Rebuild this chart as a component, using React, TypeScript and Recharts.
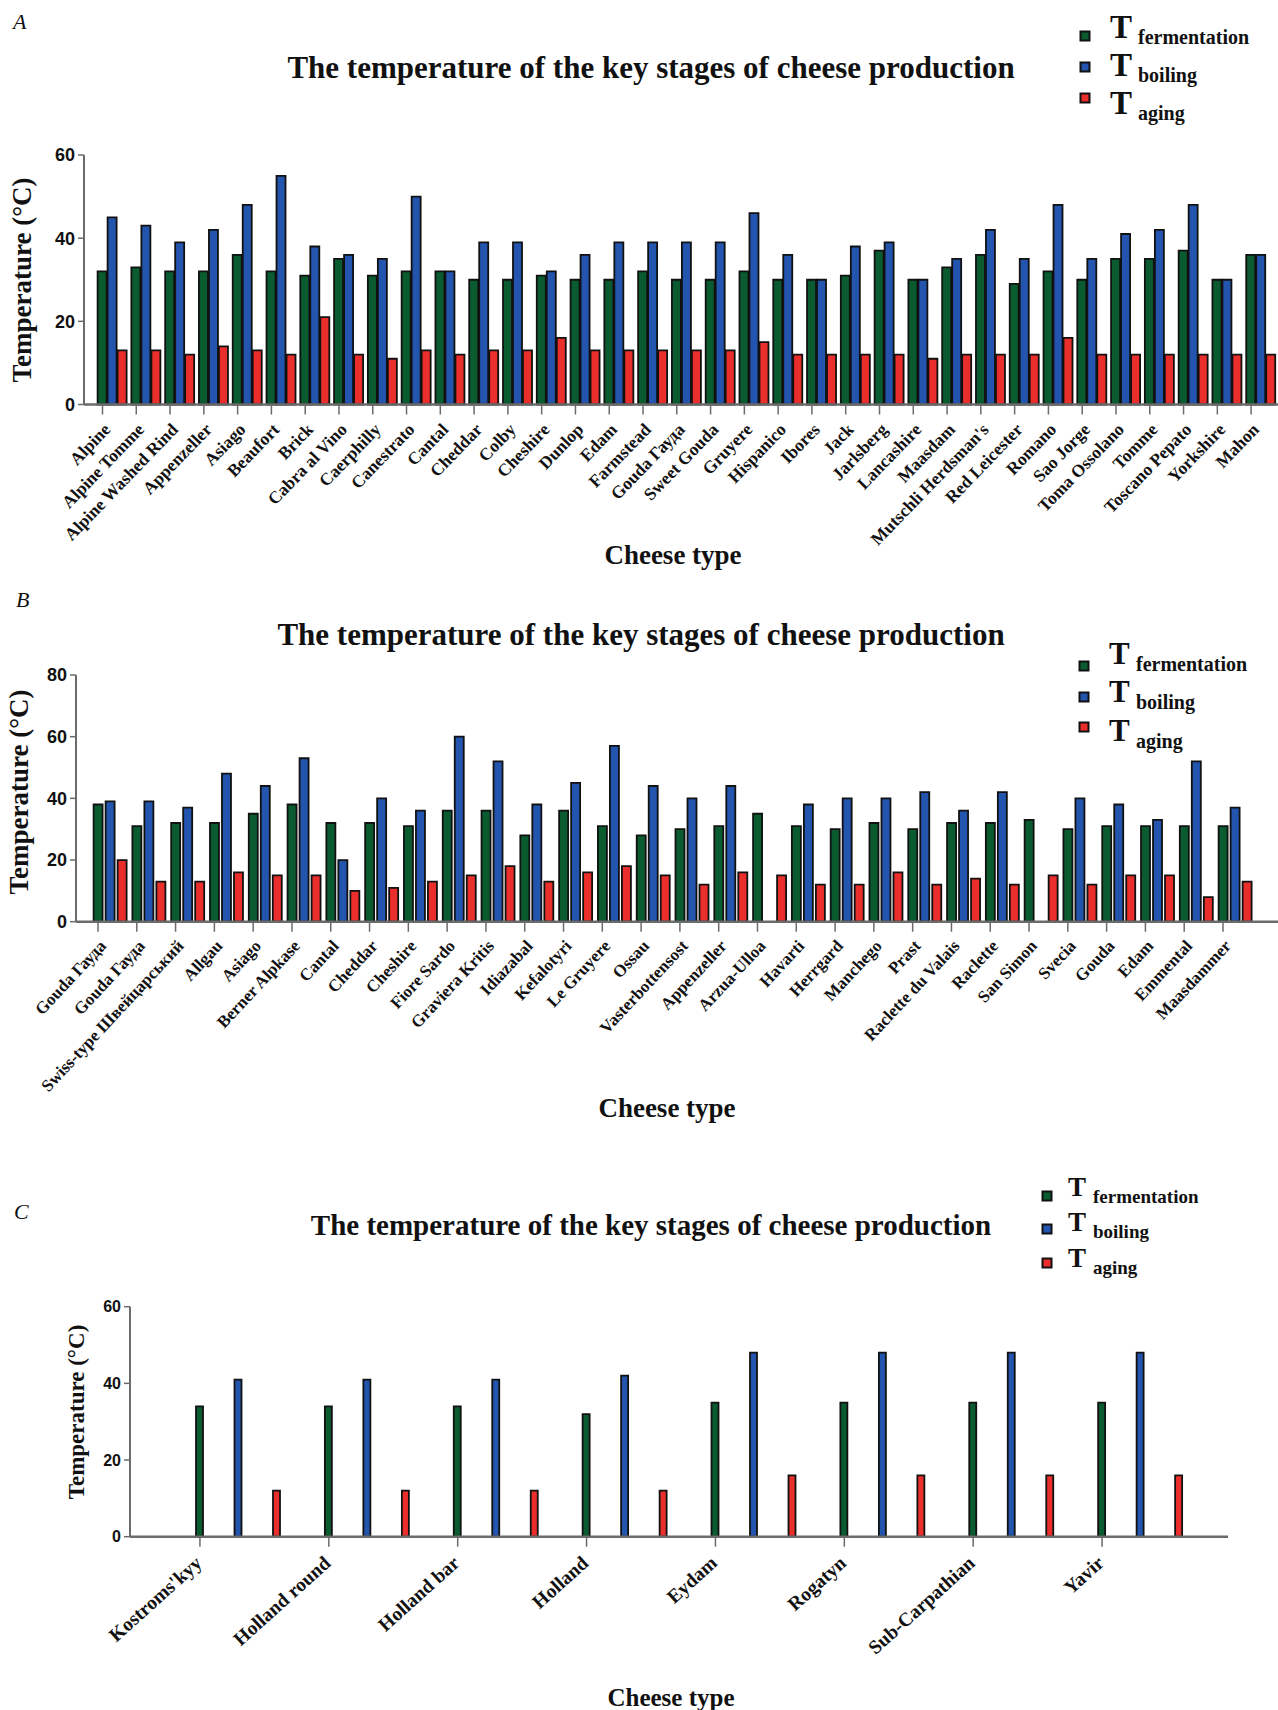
import React from "react";
import { BarChart, Bar, XAxis, YAxis, Legend } from "recharts";

const GREEN = "#0b5b30";
const BLUE = "#2355ae";
const RED = "#ea2e2b";
const AXIS = "#6b6b6b";
const SERIF = "'Liberation Serif', 'Times New Roman', serif";
const SANS = "'Liberation Sans', Arial, sans-serif";
const NARROW = "'Liberation Sans Narrow', 'Liberation Sans', sans-serif";

const seriesKeys = ["fermentation", "boiling", "aging"];
const seriesColors = [GREEN, BLUE, RED];

// Panel A
const cheesesA = [
  "Alpine", "Alpine Tomme", "Alpine Washed Rind", "Appenzeller", "Asiago", "Beaufort", "Brick",
  "Cabra al Vino", "Caerphilly", "Canestrato", "Cantal", "Cheddar", "Colby", "Cheshire", "Dunlop",
  "Edam", "Farmstead", "Gouda Гауда", "Sweet Gouda", "Gruyere", "Hispanico", "Ibores", "Jack",
  "Jarlsberg", "Lancashire", "Maasdam", "Mutschli Herdsman's", "Red Leicester", "Romano",
  "Sao Jorge", "Toma Ossolano", "Tomme", "Toscano Pepato", "Yorkshire", "Mahon",
];
const fermentationA = [32, 33, 32, 32, 36, 32, 31, 35, 31, 32, 32, 30, 30, 31, 30, 30, 32, 30, 30, 32, 30, 30, 31, 37, 30, 33, 36, 29, 32, 30, 35, 35, 37, 30, 36];
const boilingA = [45, 43, 39, 42, 48, 55, 38, 36, 35, 50, 32, 39, 39, 32, 36, 39, 39, 39, 39, 46, 36, 30, 38, 39, 30, 35, 42, 35, 48, 35, 41, 42, 48, 30, 36];
const agingA = [13, 13, 12, 14, 13, 12, 21, 12, 11, 13, 12, 13, 13, 16, 13, 13, 13, 13, 13, 15, 12, 12, 12, 12, 11, 12, 12, 12, 16, 12, 12, 12, 12, 12, 12];
const yTicksA = [0, 20, 40, 60];

// Panel B
const cheesesB = [
  "Gouda Гауда", "Gouda Гауда", "Swiss-type Швейцарський", "Allgau", "Asiago", "Berner Alpkase",
  "Cantal", "Cheddar", "Cheshire", "Fiore Sardo", "Graviera Kritis", "Idiazabal", "Kefalotyri",
  "Le Gruyere", "Ossau", "Vasterbottensost", "Appenzeller", "Arzua-Ulloa", "Havarti", "Herrgard",
  "Manchego", "Prast", "Raclette du Valais", "Raclette", "San Simon", "Svecia", "Gouda", "Edam",
  "Emmental", "Maasdammer",
];
const fermentationB = [38, 31, 32, 32, 35, 38, 32, 32, 31, 36, 36, 28, 36, 31, 28, 30, 31, 35, 31, 30, 32, 30, 32, 32, 33, 30, 31, 31, 31, 31];
const boilingB = [39, 39, 37, 48, 44, 53, 20, 40, 36, 60, 52, 38, 45, 57, 44, 40, 44, null, 38, 40, 40, 42, 36, 42, null, 40, 38, 33, 52, 37];
const agingB = [20, 13, 13, 16, 15, 15, 10, 11, 13, 15, 18, 13, 16, 18, 15, 12, 16, 15, 12, 12, 16, 12, 14, 12, 15, 12, 15, 15, 8, 13];
const yTicksB = [0, 20, 40, 60, 80];

// Panel C
const cheesesC = ["Kostroms'kyy", "Holland round", "Holland bar", "Holland", "Eydam", "Rogatyn", "Sub-Carpathian", "Yavir"];
const fermentationC = [34, 34, 34, 32, 35, 35, 35, 35];
const boilingC = [41, 41, 41, 42, 48, 48, 48, 48];
const agingC = [12, 12, 12, 12, 16, 16, 16, 16];
const yTicksC = [0, 20, 40, 60];

const buildRows = (names: string[], f: (number | null)[], b: (number | null)[], a: (number | null)[]) =>
  names.map((name, i) => ({ name, fermentation: f[i], boiling: b[i], aging: a[i] }));

type TickCfg = { shift: number; angle: number; size: number; dx: number; dy: number; len: number };

// x tick sits under the green bar, not the group centre
const makeTick = (cfg: TickCfg) => (props: any) => {
  const { x, y, payload } = props;
  const tx = x + cfg.shift;
  return (
    <g>
      <line x1={tx} y1={y} x2={tx} y2={y + cfg.len} stroke={AXIS} strokeWidth={1.5} />
      <text
        transform={`translate(${tx + cfg.dx},${y + cfg.dy}) rotate(${cfg.angle})`}
        textAnchor="end"
        fontFamily={SERIF}
        fontWeight="bold"
        fontSize={cfg.size}
        fill="#111"
      >
        {payload.value}
      </text>
    </g>
  );
};

type LegendCfg = {
  x0: number; y0: number; w: number; h: number;
  sqX: number; sqY: number[]; sq: number;
  tX: number; tY: number[]; tSize: number;
  subX: number; subY: number[]; subSize: number;
};

const makeLegend = (cfg: LegendCfg) => (props: any) => {
  const payload = props.payload || [];
  return (
    <svg width={cfg.w} height={cfg.h} viewBox={`${cfg.x0} ${cfg.y0} ${cfg.w} ${cfg.h}`} style={{ display: "block", overflow: "visible" }}>
      {seriesKeys.map((key, i) => {
        const item = payload.find((p: any) => p.value === key);
        const color = (item && item.color) || seriesColors[i];
        return (
          <g key={key}>
            <rect x={cfg.sqX - cfg.sq / 2} y={cfg.sqY[i] - cfg.sq / 2} width={cfg.sq} height={cfg.sq} fill={color} stroke="#111" strokeWidth={2} />
            <text x={cfg.tX} y={cfg.tY[i]} fontFamily={SERIF} fontWeight="bold" fontSize={cfg.tSize} fill="#111">T</text>
            <text x={cfg.subX} y={cfg.subY[i]} fontFamily={SERIF} fontWeight="bold" fontSize={cfg.subSize} fill="#111">{key}</text>
          </g>
        );
      })}
    </svg>
  );
};

type TitleCfg = { x: number; y: number; size: number };

type PanelProps = {
  top: number;
  height: number;
  rows: any[];
  yTicks: number[];
  margin: { top: number; right: number; bottom: number; left: number };
  yWidth: number;
  xHeight: number;
  padding: { left: number; right: number };
  barSize: number;
  barGap: number;
  tick: TickCfg;
  yFont: { family: string; size: number };
  yTitle: TitleCfg;
  xTitle: TitleCfg;
  legend: LegendCfg;
};

function Panel(p: PanelProps) {
  const yMax = p.yTicks[p.yTicks.length - 1];
  return (
    <div style={{ position: "absolute", left: 0, top: p.top }}>
      <BarChart width={1278} height={p.height} data={p.rows} margin={p.margin} barSize={p.barSize} barGap={p.barGap}>
        <XAxis
          dataKey="name"
          interval={0}
          height={p.xHeight}
          padding={p.padding}
          axisLine={{ stroke: AXIS, strokeWidth: 2.5 }}
          tickLine={false}
          tickSize={0}
          tickMargin={0}
          tick={makeTick(p.tick)}
          label={{
            content: () => (
              <text x={p.xTitle.x} y={p.xTitle.y} textAnchor="middle" fontFamily={SERIF} fontWeight="bold" fontSize={p.xTitle.size} fill="#111">
                Cheese type
              </text>
            ),
          }}
        />
        <YAxis
          domain={[0, yMax]}
          ticks={p.yTicks}
          width={p.yWidth}
          interval={0}
          axisLine={{ stroke: AXIS, strokeWidth: 2 }}
          tickLine={{ stroke: AXIS, strokeWidth: 1.5 }}
          tickSize={6}
          tickMargin={3}
          tick={{ fill: "#111", fontSize: p.yFont.size, fontWeight: "bold", fontFamily: p.yFont.family }}
          label={{
            content: () => (
              <text
                transform={`translate(${p.yTitle.x},${p.yTitle.y}) rotate(-90)`}
                textAnchor="middle"
                fontFamily={SERIF}
                fontWeight="bold"
                fontSize={p.yTitle.size}
                fill="#111"
              >
                Temperature (°C)
              </text>
            ),
          }}
        />
        <Legend
          layout="vertical"
          align="center"
          verticalAlign="middle"
          content={makeLegend(p.legend)}
          wrapperStyle={{ left: p.legend.x0, top: p.legend.y0, width: p.legend.w, height: p.legend.h }}
        />
        <Bar dataKey="fermentation" name="fermentation" fill={GREEN} stroke="#111" strokeWidth={1.8} isAnimationActive={false} />
        <Bar dataKey="boiling" name="boiling" fill={BLUE} stroke="#111" strokeWidth={1.8} isAnimationActive={false} />
        <Bar dataKey="aging" name="aging" fill={RED} stroke="#111" strokeWidth={1.8} isAnimationActive={false} />
      </BarChart>
    </div>
  );
}

const TITLE = "The temperature of the key stages of cheese production";

export default function App() {
  return (
    <div style={{ position: "absolute", left: 0, top: 0, width: 1278, height: 1710, background: "#fff", overflow: "hidden" }}>
      <Panel
        top={0}
        height={570}
        rows={buildRows(cheesesA, fermentationA, boilingA, agingA)}
        yTicks={yTicksA}
        margin={{ top: 155, right: 0, bottom: 15.5, left: 0 }}
        yWidth={84}
        xHeight={150}
        padding={{ left: 11.6, right: 0 }}
        barSize={9}
        barGap={1}
        tick={{ shift: -10, angle: -46, size: 17.5, dx: 9, dy: 26, len: 10 }}
        yFont={{ family: SANS, size: 18 }}
        yTitle={{ x: 31, y: 280, size: 27 }}
        xTitle={{ x: 673, y: 564, size: 27 }}
        legend={{
          x0: 1070, y0: 0, w: 208, h: 130,
          sqX: 1085, sqY: [36, 67, 98], sq: 9,
          tX: 1110, tY: [38, 76, 114], tSize: 33,
          subX: 1138, subY: [44, 82, 120], subSize: 20,
        }}
      />
      <Panel
        top={580}
        height={560}
        rows={buildRows(cheesesB, fermentationB, boilingB, agingB)}
        yTicks={yTicksB}
        margin={{ top: 95, right: 0, bottom: 28.3, left: 0 }}
        yWidth={76}
        xHeight={190}
        padding={{ left: 14.6, right: 23.6 }}
        barSize={9}
        barGap={3}
        tick={{ shift: -12, angle: -47, size: 17, dx: 9, dy: 25, len: 10 }}
        yFont={{ family: SANS, size: 18 }}
        yTitle={{ x: 28, y: 212, size: 27 }}
        xTitle={{ x: 667, y: 537, size: 27 }}
        legend={{
          x0: 1070, y0: 50, w: 208, h: 130,
          sqX: 1084, sqY: [86, 117, 147], sq: 9,
          tX: 1109, tY: [84, 122, 161], tSize: 31,
          subX: 1136, subY: [91, 129, 168], subSize: 20,
        }}
      />
      <Panel
        top={1150}
        height={560}
        rows={buildRows(cheesesC, fermentationC, boilingC, agingC)}
        yTicks={yTicksC}
        margin={{ top: 156.7, right: 50, bottom: 23.3, left: 0 }}
        yWidth={130}
        xHeight={150}
        padding={{ left: 44, right: 23 }}
        barSize={7}
        barGap={31.5}
        tick={{ shift: -38.5, angle: -42, size: 19.5, dx: 3, dy: 28, len: 10 }}
        yFont={{ family: NARROW, size: 16 }}
        yTitle={{ x: 84, y: 262, size: 23 }}
        xTitle={{ x: 671, y: 556, size: 25 }}
        legend={{
          x0: 1035, y0: 15, w: 243, h: 125,
          sqX: 1047, sqY: [46, 79, 113], sq: 9,
          tX: 1068, tY: [46, 81, 117], tSize: 27,
          subX: 1093, subY: [53, 88, 124], subSize: 19,
        }}
      />
      {/* panel letters and titles */}
      <svg width={1278} height={1710} style={{ position: "absolute", left: 0, top: 0, pointerEvents: "none" }}>
        <text x={13} y={29} fontFamily={SERIF} fontStyle="italic" fontSize={22} fill="#111">A</text>
        <text x={16} y={607} fontFamily={SERIF} fontStyle="italic" fontSize={22} fill="#111">B</text>
        <text x={14} y={1219} fontFamily={SERIF} fontStyle="italic" fontSize={22} fill="#111">C</text>
        <text x={651} y={78} textAnchor="middle" fontFamily={SERIF} fontWeight="bold" fontSize={31} fill="#111">{TITLE}</text>
        <text x={641} y={645} textAnchor="middle" fontFamily={SERIF} fontWeight="bold" fontSize={31} fill="#111">{TITLE}</text>
        <text x={651} y={1235} textAnchor="middle" fontFamily={SERIF} fontWeight="bold" fontSize={29} fill="#111">{TITLE}</text>
      </svg>
    </div>
  );
}
